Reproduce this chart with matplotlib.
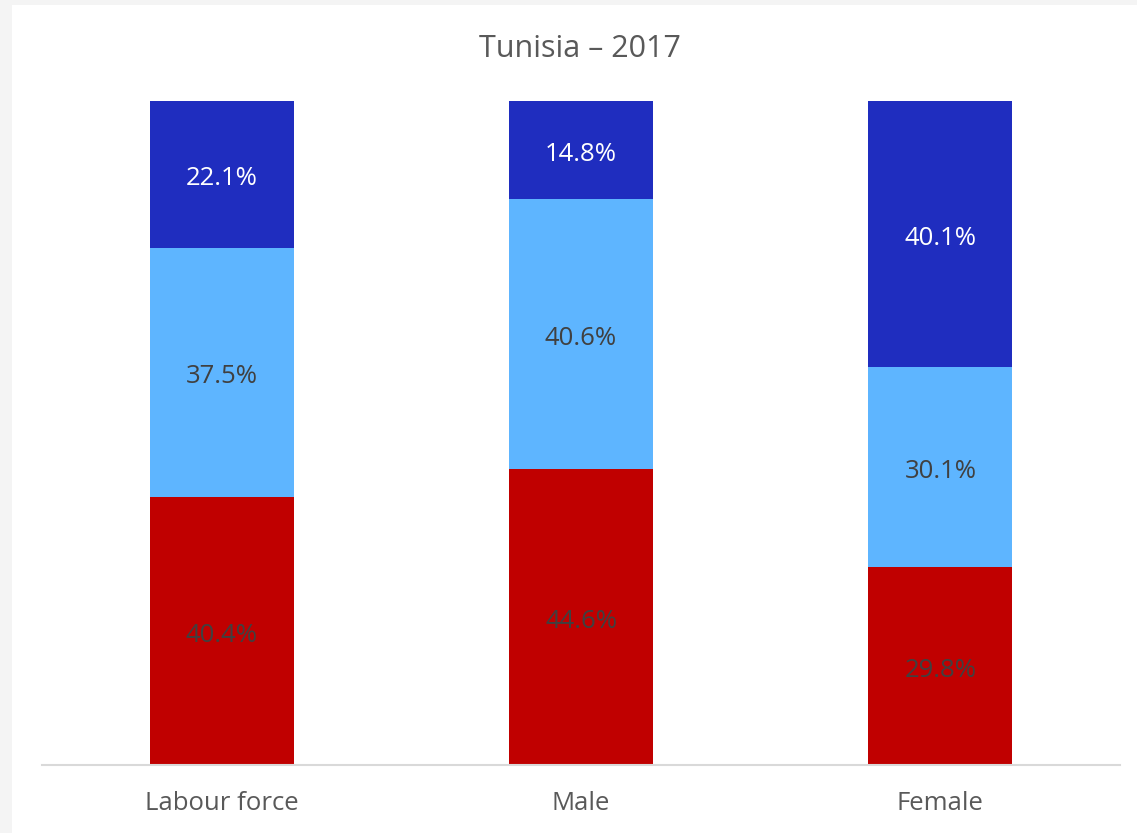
import matplotlib
matplotlib.use("Agg")
import matplotlib.pyplot as plt
from matplotlib.patches import Rectangle
import numpy as np

categories = ["Labour force", "Male", "Female"]
series_names = ["Bottom", "Middle", "Top"]
red_vals = [40.4, 44.6, 29.8]
light_vals = [37.5, 40.6, 30.1]
dark_vals = [22.1, 14.8, 40.1]
title = "Tunisia \u2013 2017"

colors = ["#C00000", "#5EB5FF", "#1F2DBF"]
label_colors = ["#404040", "#404040", "#FFFFFF"]

plt.rcParams['font.family'] = ['Open Sans', 'DejaVu Sans']

W, H = 1137, 833
fig = plt.figure(figsize=(W / 100, H / 100), dpi=100)
fig.patch.set_facecolor("#F4F4F4")
fig.patches.append(Rectangle((12 / W, 0), 1 - 12 / W, 1 - 5 / H, transform=fig.transFigure,
                             facecolor="white", edgecolor="none", zorder=-10))

ax = fig.add_axes([42 / W, (H - 765) / H, (1120 - 42) / W, (765 - 101) / H])
ax.set_zorder(5)
ax.set_facecolor("none")

x = np.arange(len(categories))
bottom = np.zeros(len(categories))
for vals, c, lc in zip([red_vals, light_vals, dark_vals], colors, label_colors):
    vals = np.array(vals)
    ax.bar(x, vals, width=0.4, bottom=bottom, color=c, edgecolor="none")
    for xi, b, v in zip(x, bottom, vals):
        ax.annotate(f"{v:.1f}%", (xi, b + v / 2), xytext=(0, -3), textcoords="offset points",
                    ha="center", va="center", color=lc, fontsize=18.5)
    bottom += vals

ax.set_xlim(-0.5, 2.5)
ax.set_ylim(0, 100)
ax.set_yticks([])
ax.set_xticks(x)
ax.set_xticklabels(categories, fontsize=18.5, color="#595959")
ax.tick_params(axis="x", length=0, pad=19)
for s in ["top", "right", "left"]:
    ax.spines[s].set_visible(False)
ax.spines["bottom"].set_color("#D9D9D9")
ax.spines["bottom"].set_linewidth(1.5)

fig.text(580 / W, 1 - 49 / H, title, ha="center", va="center", fontsize=22, color="#595959")

fig.savefig("out.png", dpi=100, facecolor=fig.get_facecolor())
